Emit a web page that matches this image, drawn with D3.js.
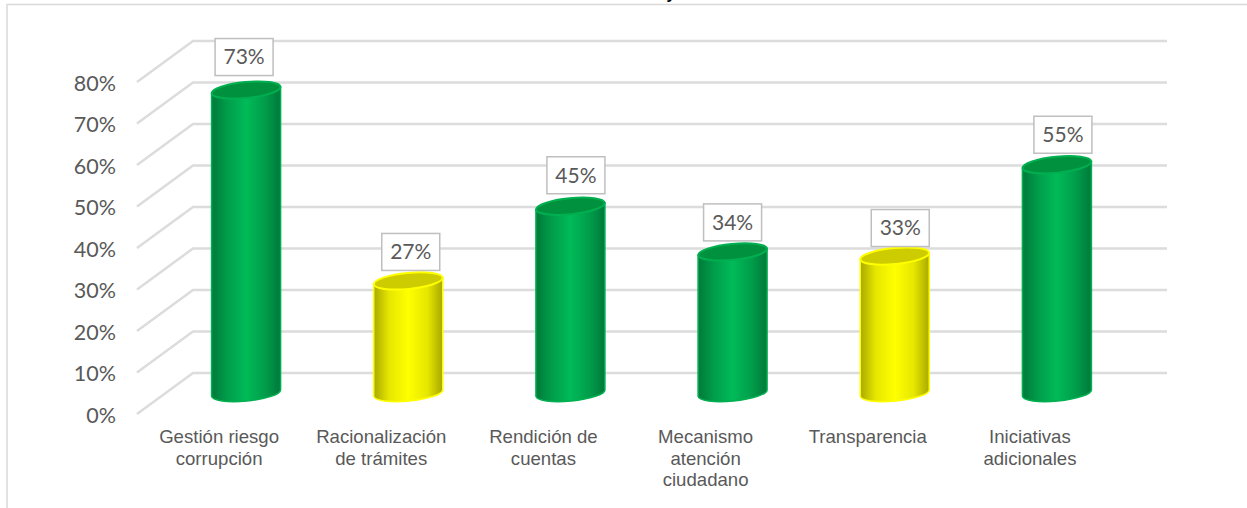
<!DOCTYPE html>
<html>
<head>
<meta charset="utf-8">
<script src="https://cdn.jsdelivr.net/npm/d3@7"></script>
<style>
  html, body { margin: 0; padding: 0; background: #fff; overflow: hidden; }
</style>
</head>
<body>
<div id="chart"></div>
<script>
const categories = [
  ["Gestión riesgo", "corrupción"],
  ["Racionalización", "de trámites"],
  ["Rendición de", "cuentas"],
  ["Mecanismo", "atención", "ciudadano"],
  ["Transparencia"],
  ["Iniciativas", "adicionales"]
];
const values = [73, 27, 45, 34, 33, 55];
const status = ["green", "yellow", "green", "green", "yellow", "green"];
const yTicks = [0, 10, 20, 30, 40, 50, 60, 70, 80];

const width = 1247;
const height = 508;

const colors = {
  green: { edge: "#00b050", mid: "#00bb58", soft: "#009c4a", dark: "#00793a", top: "#00913f" },
  yellow: { edge: "#ffff00", mid: "#ffff00", soft: "#e6e600", dark: "#a8a800", top: "#cccc00" }
};

const svg = d3.select("#chart")
  .append("svg")
  .attr("width", width)
  .attr("height", height)
  .style("display", "block");

// frame round the chart, title is cut off above it
svg.append("path")
  .attr("d", "M7,508V4.5H1247")
  .attr("fill", "none")
  .attr("stroke", "#d9d9d9")
  .attr("stroke-width", 1.5);
svg.append("text")
  .attr("x", 671)
  .attr("y", -1)
  .attr("text-anchor", "middle")
  .style("font", "bold 16px 'Liberation Sans', Arial, sans-serif")
  .text("y");

// scales, front of the floor and 3d offset to the back wall
const y = d3.scaleLinear().domain([0, 80]).range([414, 82]);
const x = d3.scaleBand().domain(d3.range(categories.length)).range([165, 1138]);
const depth = { x: 56, y: -41 };
const wallLeft = 137;
const wallRight = 1167;

const grid = svg.append("g");
yTicks.forEach(t => {
  const py = y(t);
  grid.append("path")
    .attr("d", `M${wallLeft},${py}L${wallLeft + depth.x},${py + depth.y}H${wallRight}`)
    .attr("fill", "none")
    .attr("stroke", "#dcdcdc")
    .attr("stroke-width", 2.5);
});

const yAxis = d3.axisLeft(y)
  .tickValues(yTicks)
  .tickFormat(d => d + "%")
  .tickSize(0)
  .tickPadding(0);

const yG = svg.append("g")
  .attr("transform", "translate(116,1.5)")
  .call(yAxis);
yG.select(".domain").remove();
yG.selectAll("text")
  .attr("fill", "#595959")
  .style("font-family", "Lato, 'Open Sans', sans-serif")
  .style("font-size", "21.5px");

// gradients for the cylinder sides
const defs = svg.append("defs");
Object.keys(colors).forEach(k => {
  const g = defs.append("linearGradient").attr("id", "side-" + k);
  g.append("stop").attr("offset", "0%").attr("stop-color", colors[k].dark);
  g.append("stop").attr("offset", "22%").attr("stop-color", colors[k].soft);
  g.append("stop").attr("offset", "50%").attr("stop-color", colors[k].mid);
  g.append("stop").attr("offset", "78%").attr("stop-color", colors[k].soft);
  g.append("stop").attr("offset", "100%").attr("stop-color", colors[k].dark);
});

// bars
const rx = 34.5;
const ry = 8;
const tilt = -5.5;
const base = y(0) - 21;
const tiltDy = rx * Math.sin(-tilt * Math.PI / 180);

const bars = svg.append("g")
  .selectAll("g")
  .data(values)
  .enter()
  .append("g")
  .attr("transform", (d, i) => `translate(${x(i) + x.bandwidth() / 2},0)`);

bars.append("path")
  .attr("fill", (d, i) => `url(#side-${status[i]})`)
  .attr("stroke", (d, i) => colors[status[i]].edge)
  .attr("stroke-width", 1.5)
  .attr("d", d => {
    const top = base - (y(0) - y(d));
    return `M${-rx},${top + tiltDy}L${rx},${top - tiltDy}L${rx},${base - tiltDy}` +
      `A${rx},${ry} ${tilt} 0 1 ${-rx},${base + tiltDy}Z`;
  });

bars.append("ellipse")
  .attr("rx", rx)
  .attr("ry", ry)
  .attr("transform", d => `translate(0,${base - (y(0) - y(d))}) rotate(${tilt})`)
  .attr("fill", (d, i) => colors[status[i]].top)
  .attr("stroke", (d, i) => colors[status[i]].edge)
  .attr("stroke-width", 2);

// value labels in their boxes, hand placed in the original so each has a nudge
const labelDx = [-2, 2.5, 5.5, 0, 5.5, 6];
const labelDy = [0, 4, 2, 3.5, 5, 3];
const labels = svg.append("g")
  .selectAll("g")
  .data(values)
  .enter()
  .append("g")
  .attr("transform", (d, i) => `translate(${x(i) + x.bandwidth() / 2 + labelDx[i]},${base - (y(0) - y(d)) - 33 + labelDy[i]})`);

labels.append("rect")
  .attr("x", -29)
  .attr("y", -18.5)
  .attr("width", 58)
  .attr("height", 37)
  .attr("fill", "#fff")
  .attr("stroke", "#bfbfbf")
  .attr("stroke-width", 1.5);

labels.append("text")
  .attr("text-anchor", "middle")
  .attr("dy", "0.35em")
  .attr("fill", "#595959")
  .style("font-family", "Lato, 'Open Sans', sans-serif")
  .style("font-size", "21px")
  .text(d => d + "%");

// category labels
const catG = svg.append("g")
  .selectAll("text")
  .data(categories)
  .enter()
  .append("text")
  .attr("text-anchor", "middle")
  .attr("fill", "#595959")
  .style("font-family", "'Liberation Sans', Arial, sans-serif")
  .style("font-size", "18.6px")
  .attr("transform", (d, i) => `translate(${x(i) + x.bandwidth() / 2 - 27},443)`);

catG.selectAll("tspan")
  .data(d => d)
  .enter()
  .append("tspan")
  .attr("x", 0)
  .attr("y", (d, i) => i * 21.5)
  .text(d => d);
</script>
</body>
</html>
